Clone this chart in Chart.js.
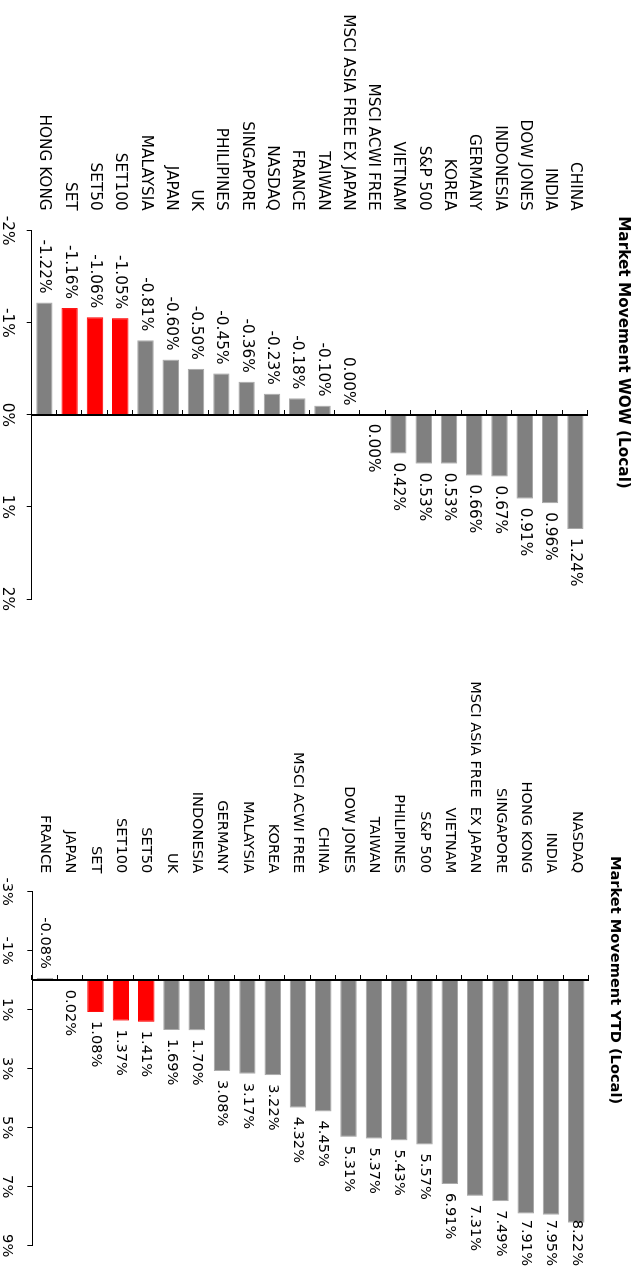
<!DOCTYPE html>
<html>
<head>
<meta charset="utf-8">
<script src="https://cdn.jsdelivr.net/npm/chart.js@4.4.0/dist/chart.umd.min.js"></script>
<style>
  html, body { margin: 0; padding: 0; background: #fff; overflow: hidden; }
  body { width: 644px; height: 1270px; position: relative; }
  .turn { position: absolute; left: 0; width: 635px; height: 644px;
          transform-origin: 0 0; transform: translate(644px, 0) rotate(90deg); }
</style>
</head>
<body>
<div class="turn" style="top:0px"><canvas id="wow" width="635" height="644"></canvas></div>
<div class="turn" style="top:635px"><canvas id="ytd" width="635" height="644"></canvas></div>
<script>
// week on week, top of the list first
const wowLabels = ['CHINA', 'INDIA', 'DOW JONES', 'INDONESIA', 'GERMANY', 'KOREA', 'S&P 500', 'VIETNAM',
  'MSCI ACWI FREE', 'MSCI ASIA FREE EX JAPAN', 'TAIWAN', 'FRANCE', 'NASDAQ', 'SINGAPORE', 'PHILIPINES',
  'UK', 'JAPAN', 'MALAYSIA', 'SET100', 'SET50', 'SET', 'HONG KONG'];
const wowValues = [1.24, 0.96, 0.91, 0.67, 0.66, 0.53, 0.53, 0.42,
  0.00, -0.004, -0.10, -0.18, -0.23, -0.36, -0.45,
  -0.50, -0.60, -0.81, -1.05, -1.06, -1.16, -1.22];

// year to date
const ytdLabels = ['NASDAQ', 'INDIA', 'HONG KONG', 'SINGAPORE', 'MSCI ASIA FREE  EX JAPAN', 'VIETNAM',
  'S&P 500', 'PHILIPINES', 'TAIWAN', 'DOW JONES', 'CHINA', 'MSCI ACWI FREE', 'KOREA', 'MALAYSIA',
  'GERMANY', 'INDONESIA', 'UK', 'SET50', 'SET100', 'SET', 'JAPAN', 'FRANCE'];
const ytdValues = [8.22, 7.95, 7.91, 7.49, 7.31, 6.91,
  5.57, 5.43, 5.37, 5.31, 4.45, 4.32, 3.22, 3.17,
  3.08, 1.70, 1.69, 1.41, 1.37, 1.08, 0.02, -0.08];

const wowTicks = { min: -2, max: 2, step: 1 };
const ytdTicks = { min: -3, max: 9, step: 2 };

const FONT = 'DejaVu Sans';
const GREY = '#808080', RED = '#ff0000';

function pct(v) {
  if (Math.abs(v) < 0.005) v = 0;
  return v.toFixed(2) + '%';
}

// value labels at the end of each bar
const barLabels = {
  id: 'barLabels',
  afterDatasetsDraw(chart, args, opts) {
    const ctx = chart.ctx;
    const vals = chart.data.datasets[0].data;
    ctx.save();
    ctx.font = opts.size + 'px "' + FONT + '"';
    ctx.fillStyle = '#000';
    ctx.textBaseline = 'middle';
    ctx.textAlign = 'left';
    chart.getDatasetMeta(0).data.forEach((bar, i) => {
      const txt = pct(vals[i]);
      const w = ctx.measureText(txt).width;
      let x;
      if (vals[i] >= 0) {
        x = bar.x + 9;
        if (x + w > chart.width - 4) x = chart.width - 4 - w;
      } else {
        x = bar.x - 9 - w;
      }
      ctx.fillText(txt, x, bar.y);
    });
    ctx.restore();
  }
};

// category axis crossing at zero, with marks between categories
const zeroAxis = {
  id: 'zeroAxis',
  afterDatasetsDraw(chart) {
    const { ctx, scales: { x, y } } = chart;
    const zx = Math.round(x.getPixelForValue(0));
    ctx.save();
    ctx.strokeStyle = '#000';
    ctx.lineWidth = 2;
    ctx.beginPath();
    ctx.moveTo(zx, y.top);
    ctx.lineTo(zx, y.bottom);
    ctx.stroke();
    ctx.lineWidth = 1;
    ctx.beginPath();
    for (let i = 0; i <= chart.data.labels.length; i++) {
      const py = Math.round(y.getPixelForValue(i - 0.5)) + 0.5;
      ctx.moveTo(zx - 5, py);
      ctx.lineTo(zx, py);
    }
    ctx.stroke();
    ctx.restore();
  }
};

// the title sits over the middle of labels + plot, not the canvas
const titleShift = {
  id: 'titleShift',
  afterLayout(chart, args, opts) {
    const t = chart.titleBlock;
    if (!t) return;
    const w = t.right - t.left;
    t.left = opts.center - w / 2;
    t.right = opts.center + w / 2;
  }
};

function makeChart(id, labels, values, ticks, title, s) {
  const colors = labels.map(l => l.startsWith('SET') ? RED : GREY);
  const borders = labels.map(l => l.startsWith('SET') ? RED : '#a8a8a8');
  return new Chart(document.getElementById(id), {
    type: 'bar',
    data: {
      labels: labels,
      datasets: [{
        data: values,
        backgroundColor: colors,
        borderColor: borders,
        borderWidth: 1,
        barPercentage: 0.65,
        categoryPercentage: 1
      }]
    },
    options: {
      indexAxis: 'y',
      responsive: false,
      animation: false,
      layout: { padding: { left: 2, right: s.pr, top: 0, bottom: 0 } },
      plugins: {
        legend: { display: false },
        tooltip: { enabled: false },
        title: {
          display: true,
          text: title,
          color: '#000',
          font: { family: FONT, size: s.font, weight: 'bold' },
          padding: { top: s.tt, bottom: s.tb }
        },
        titleShift: { center: s.tc },
        barLabels: { size: s.font }
      },
      scales: {
        x: {
          min: ticks.min,
          max: ticks.max,
          grid: { display: true, drawOnChartArea: false, drawTicks: true, tickLength: 5, color: '#000' },
          border: { display: true, color: '#000', width: 1 },
          ticks: {
            stepSize: ticks.step,
            color: '#000',
            padding: s.xp,
            maxRotation: 0,
            font: { family: FONT, size: s.font },
            callback: v => v + '%'
          },
          afterFit: sc => { sc.height = s.xh; }
        },
        y: {
          grid: { display: false, drawTicks: false },
          border: { display: false },
          ticks: {
            color: '#000',
            padding: s.yp,
            autoSkip: false,
            font: { family: FONT, size: s.font }
          },
          afterFit: sc => { sc.width = s.left - 2; }
        }
      }
    },
    plugins: [titleShift, zeroAxis, barLabels]
  });
}

makeChart('wow', wowLabels, wowValues, wowTicks, 'Market Movement WOW (Local)',
  { font: 15.3, left: 230.7, pr: 36, tc: 352.5, yp: 20, xh: 31.7, xp: 10.5, tt: 11.8, tb: 25.8 });
makeChart('ytd', ytdLabels, ytdValues, ytdTicks, 'Market Movement YTD (Local)',
  { font: 14.6, left: 256.7, pr: 24.3, tc: 345, yp: 18.4, xh: 32.3, xp: 11.5, tt: 20.7, tb: 16.8 });
</script>
</body>
</html>
